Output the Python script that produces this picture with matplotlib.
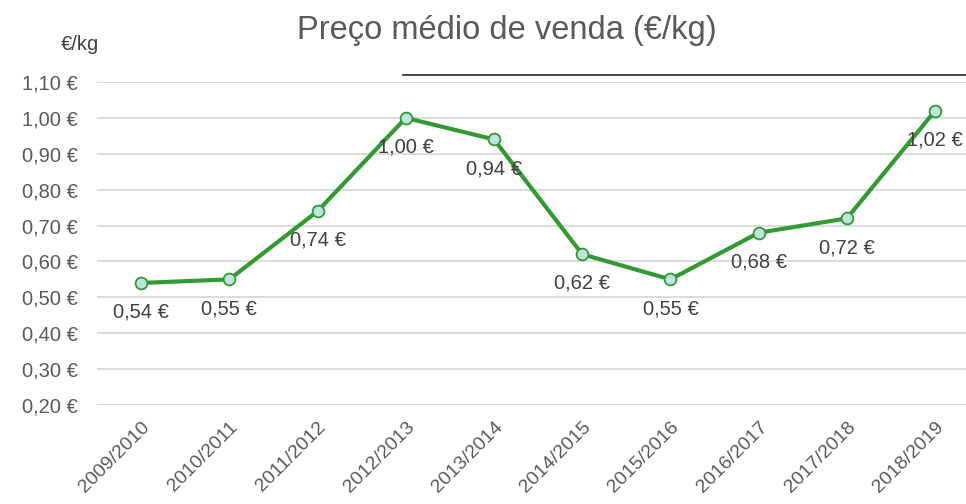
import matplotlib.pyplot as plt
from matplotlib.lines import Line2D

plt.rcParams['font.family'] = ['Liberation Sans', 'DejaVu Sans']

# data
seasons = ['2009/2010', '2010/2011', '2011/2012', '2012/2013', '2013/2014',
           '2014/2015', '2015/2016', '2016/2017', '2017/2018', '2018/2019']
price = [0.54, 0.55, 0.74, 1.00, 0.94, 0.62, 0.55, 0.68, 0.72, 1.02]
yticks = [0.2, 0.3, 0.4, 0.5, 0.6, 0.7, 0.8, 0.9, 1.0, 1.1]


def euro(v):
    return f'{v:.2f}'.replace('.', ',') + ' €'


fig = plt.figure(figsize=(9.66, 5.04), dpi=100)
ax = fig.add_axes([97 / 966, 99 / 504, 1 - 97 / 966, 323 / 504])

x = range(len(seasons))
ax.plot(x, price, color='#339a33', lw=3, marker='o', ms=8.5,
        mfc='#bfe3df', mec='#339a33', mew=1.3, zorder=3, clip_on=False)

# data labels below each point
for i, v in enumerate(price):
    ax.annotate(euro(v), (i, v), xytext=(0, -21), textcoords='offset points',
                ha='center', va='center', fontsize=14.5, color='#404040', zorder=4)

ax.set_ylim(0.2, 1.1)
ax.set_yticks(yticks)
ax.set_yticklabels([euro(t) for t in yticks])
ax.set_xlim(-0.5, 9.35)
ax.set_xticks(list(x))
ax.set_xticklabels(seasons, rotation=45, ha='right', rotation_mode='anchor')

ax.tick_params(axis='y', length=0, labelsize=14.5, colors='#595959', pad=14)
ax.tick_params(axis='x', length=0, labelsize=14, colors='#595959', pad=10)
for lbl in ax.get_xticklabels():
    lbl.set_x(lbl.get_position()[0])
ax.grid(axis='y', color='#d9d9d9', lw=1.3)
ax.set_axisbelow(True)
for s in ax.spines.values():
    s.set_visible(False)

fig.text(507 / 966, 1 - 31 / 504, 'Preço médio de venda (€/kg)', ha='center',
         va='center', fontsize=23.5, color='#595959')
fig.text(80 / 966, 1 - 45 / 504, '€/kg', ha='center', va='center',
         fontsize=14.5, color='#404040')

# thin dark stroke across the top right of the image
fig.add_artist(Line2D([403 / 966, 1], [1 - 75 / 504] * 2, color='#2a2a2a', lw=1.2))

fig.savefig('out.png', dpi=100)
